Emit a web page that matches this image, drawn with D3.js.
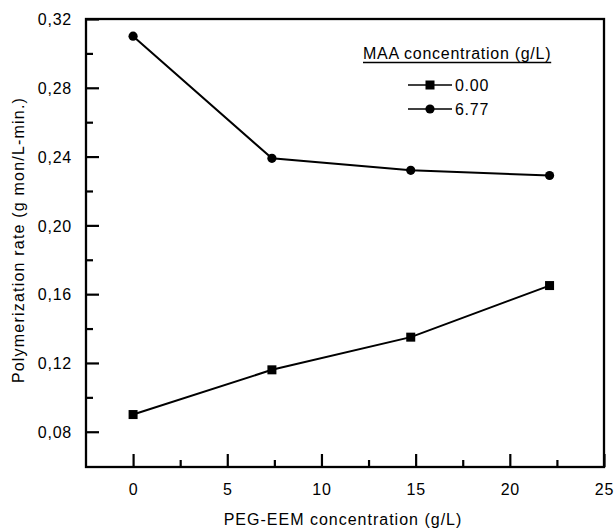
<!DOCTYPE html>
<html>
<head>
<meta charset="utf-8">
<script src="https://cdn.jsdelivr.net/npm/d3@7"></script>
<style>
  body { margin: 0; background: #fff; }
  text { font-family: "Liberation Sans", Arial, sans-serif; fill: #000; }
</style>
</head>
<body>
<div id="chart"></div>
<script>
// data
var pegConc = [0, 7.37, 14.74, 22.11];
var rateMaa000 = [0.090, 0.116, 0.135, 0.165];
var rateMaa677 = [0.310, 0.239, 0.232, 0.229];
var seriesNames = ["0.00", "6.77"];
var xMajorTicks = [0, 5, 10, 15, 20, 25];
var xMinorTicks = [2.5, 7.5, 12.5, 17.5, 22.5];
var yMajorTicks = [0.08, 0.12, 0.16, 0.20, 0.24, 0.28, 0.32];
var yMinorTicks = [0.10, 0.14, 0.18, 0.22, 0.26, 0.30];

var svgW = 616, svgH = 529;
// plot box (window.top is reserved, so no plain "top")
var boxL = 86, boxR = 604, boxT = 19, boxB = 467;

var svg = d3.select('#chart')
  .append('svg')
  .attr('width', svgW)
  .attr('height', svgH);

var x = d3.scaleLinear().domain([-2.5, 25]).range([boxL, boxR]);
var y = d3.scaleLinear().domain([0.0595, 0.32]).range([boxB, boxT]);

var commaFmt = function(d){ return d3.format(".2f")(d).replace('.', ','); };

// minor ticks first (no labels)
svg.append('g')
  .attr('transform', 'translate(' + boxL + ',0)')
  .call(d3.axisLeft(y).tickValues(yMinorTicks).tickSize(-7).tickFormat(''))
  .call(function(g){ g.select('.domain').remove(); g.selectAll('line').attr('stroke-width', 2.2); });

svg.append('g')
  .attr('transform', 'translate(0,' + boxB + ')')
  .call(d3.axisBottom(x).tickValues(xMinorTicks).tickSize(-7).tickFormat(''))
  .call(function(g){ g.select('.domain').remove(); g.selectAll('line').attr('stroke-width', 2.2); });

// major ticks + labels
var yAxis = svg.append('g')
  .attr('transform', 'translate(' + boxL + ',0)')
  .call(d3.axisLeft(y).tickValues(yMajorTicks).tickSize(-13).tickPadding(14).tickFormat(commaFmt));
yAxis.select('.domain').remove();
yAxis.selectAll('line').attr('stroke-width', 2.2);
yAxis.selectAll('text')
  .style('font-size', '16px')
  .style('letter-spacing', '0.75px')
  .style('font-family', '"Liberation Sans", Arial, sans-serif')
  .attr('dy', '0.36em');

var xAxis = svg.append('g')
  .attr('transform', 'translate(0,' + boxB + ')')
  .call(d3.axisBottom(x).tickValues(xMajorTicks).tickSize(-13).tickPadding(17).tickFormat(d3.format('d')));
xAxis.select('.domain').remove();
xAxis.selectAll('line').attr('stroke-width', 2.2);
xAxis.selectAll('text')
  .style('font-size', '16px')
  .style('letter-spacing', '0.75px')
  .style('font-family', '"Liberation Sans", Arial, sans-serif');

// frame
svg.append('rect')
  .attr('x', boxL)
  .attr('y', boxT)
  .attr('width', boxR - boxL)
  .attr('height', boxB - boxT)
  .attr('fill', 'none')
  .attr('stroke', '#000')
  .attr('stroke-width', 2.3);

// lines
var line = d3.line()
  .x(function(d){ return x(d[0]); })
  .y(function(d){ return y(d[1]); });

var sq = d3.zip(pegConc, rateMaa000);
var ci = d3.zip(pegConc, rateMaa677);

svg.append('path').datum(sq)
  .attr('d', line).attr('fill', 'none').attr('stroke', '#000').attr('stroke-width', 2);
svg.append('path').datum(ci)
  .attr('d', line).attr('fill', 'none').attr('stroke', '#000').attr('stroke-width', 2);

svg.selectAll('rect.sq')
  .data(sq)
  .enter()
  .append('rect')
  .attr('class', 'sq')
  .attr('x', function(d){ return x(d[0]) - 4.5; })
  .attr('y', function(d){ return y(d[1]) - 4.5; })
  .attr('width', 9)
  .attr('height', 9)
  .attr('fill', '#000');

svg.selectAll('circle.ci')
  .data(ci)
  .enter()
  .append('circle')
  .attr('class', 'ci')
  .attr('cx', function(d){ return x(d[0]); })
  .attr('cy', function(d){ return y(d[1]); })
  .attr('r', 4.6)
  .attr('fill', '#000');

// axis titles
svg.append('text')
  .attr('x', 343)
  .attr('y', 525)
  .attr('text-anchor', 'middle')
  .style('font-size', '16px')
  .style('letter-spacing', '1px')
  .text('PEG-EEM concentration (g/L)');

svg.append('text')
  .attr('transform', 'translate(24,240) rotate(-90)')
  .attr('text-anchor', 'middle')
  .style('font-size', '16px')
  .style('letter-spacing', '1.2px')
  .text('Polymerization rate (g mon/L-min.)');

// legend
var lgTitle = svg.append('text')
  .attr('x', 363)
  .attr('y', 59)
  .style('font-size', '16px')
  .style('letter-spacing', '0.72px')
  .text('MAA concentration (g/L)');
var tw = lgTitle.node().getComputedTextLength();
svg.append('line')
  .attr('x1', 363).attr('x2', 363 + tw)
  .attr('y1', 62.5).attr('y2', 62.5)
  .attr('stroke', '#000').attr('stroke-width', 1.3);

var lg = svg.selectAll('g.lg')
  .data(seriesNames)
  .enter()
  .append('g')
  .attr('class', 'lg')
  .attr('transform', function(d, i){ return 'translate(0,' + (85 + i * 24) + ')'; });

lg.append('line')
  .attr('x1', 408).attr('x2', 452)
  .attr('y1', 0).attr('y2', 0)
  .attr('stroke', '#000').attr('stroke-width', 1.6);

lg.filter(function(d, i){ return i === 0; })
  .append('rect')
  .attr('x', 430 - 4.5).attr('y', -4.5)
  .attr('width', 9).attr('height', 9)
  .attr('fill', '#000');

lg.filter(function(d, i){ return i === 1; })
  .append('circle')
  .attr('cx', 430).attr('cy', 0).attr('r', 4.6)
  .attr('fill', '#000');

lg.append('text')
  .attr('x', 455)
  .attr('y', 0)
  .attr('dy', '0.36em')
  .style('font-size', '16px')
  .style('letter-spacing', '0.72px')
  .text(function(d){ return d; });
</script>
</body>
</html>
